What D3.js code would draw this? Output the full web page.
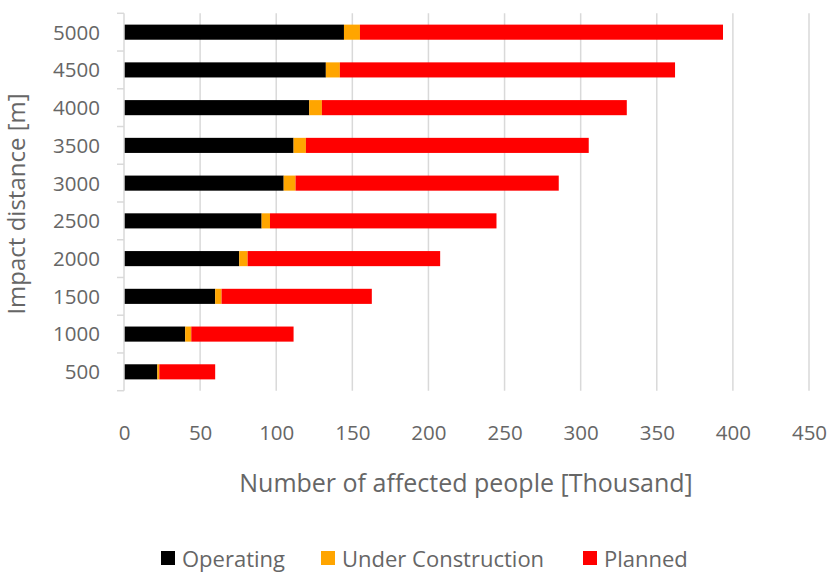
<!DOCTYPE html>
<html>
<head>
<meta charset="utf-8">
<script src="https://cdn.jsdelivr.net/npm/d3@7/dist/d3.min.js"></script>
<style>
  html, body { margin: 0; padding: 0; background: #fff; }
  svg { display: block; font-family: "Open Sans", "Noto Sans", sans-serif; }
</style>
</head>
<body>
<svg id="chart" width="827" height="572"></svg>
<script>
// Impact distance bands (m), drawn top to bottom
const distances = ["5000", "4500", "4000", "3500", "3000", "2500", "2000", "1500", "1000", "500"];

// Affected people in thousands, per status, same order as distances
const operating = [144.5, 132.6, 121.7, 111.4, 104.9, 90.4, 75.7, 59.9, 40.2, 21.9];
const underConstruction = [10.5, 9.2, 8.3, 8.1, 7.8, 5.5, 5.5, 4.2, 4.0, 1.3];
const planned = [238.5, 220.2, 200.3, 185.8, 172.9, 148.8, 126.5, 98.7, 67.2, 36.7];

const xTicks = [0, 50, 100, 150, 200, 250, 300, 350, 400, 450];

const seriesNames = ["Operating", "Under Construction", "Planned"];
const seriesColors = ["#000000", "#FFA500", "#FF0000"];

const rows = distances.map((d, i) => ({
  distance: d,
  "Operating": operating[i],
  "Under Construction": underConstruction[i],
  "Planned": planned[i]
}));

const svg = d3.select("#chart");
const textColor = "#666666";
const gridColor = "#d9d9d9";

const x = d3.scaleLinear().domain([0, 450]).range([124, 809]);
const y = d3.scaleBand().domain(distances).range([13.3, 390.7])
  .paddingInner(0.6).paddingOuter(0.3);

// Vertical gridlines
svg.append("g")
  .selectAll("line")
  .data(xTicks.filter(t => t > 0))
  .join("line")
  .attr("x1", d => x(d)).attr("x2", d => x(d))
  .attr("y1", y.range()[0]).attr("y2", y.range()[1])
  .attr("stroke", gridColor).attr("stroke-width", 1.5);

// Stacked bars
const stack = d3.stack().keys(seriesNames);
const layers = stack(rows);
svg.append("g")
  .selectAll("g")
  .data(layers)
  .join("g")
  .attr("fill", (d, i) => seriesColors[i])
  .selectAll("rect")
  .data(d => d)
  .join("rect")
  .attr("x", d => x(d[0]))
  .attr("width", d => x(d[1]) - x(d[0]))
  .attr("y", d => y(d.data.distance))
  .attr("height", y.bandwidth());

// Category axis line with ticks on band boundaries
const step = y.step();
const boundaries = d3.range(distances.length + 1).map(i => y.range()[0] + i * step);
const yAxisG = svg.append("g");
yAxisG.append("line")
  .attr("x1", x(0)).attr("x2", x(0))
  .attr("y1", y.range()[0]).attr("y2", y.range()[1])
  .attr("stroke", gridColor).attr("stroke-width", 1.5);
yAxisG.selectAll("line.tick")
  .data(boundaries)
  .join("line")
  .attr("class", "tick")
  .attr("x1", x(0) - 7).attr("x2", x(0))
  .attr("y1", d => d).attr("y2", d => d)
  .attr("stroke", gridColor).attr("stroke-width", 1.5);

// Category labels
svg.append("g")
  .attr("transform", "translate(100,0)")
  .call(d3.axisLeft(y).tickSize(0).tickPadding(0))
  .call(g => g.select(".domain").remove())
  .call(g => g.selectAll("text")
    .attr("fill", textColor)
    .style("font-family", "'Open Sans', sans-serif")
    .style("font-size", "20.5px")
    .attr("dy", "0.36em"));

// Value axis labels
svg.append("g")
  .attr("transform", "translate(0,425)")
  .call(d3.axisBottom(x).tickValues(xTicks).tickSize(0).tickPadding(0))
  .call(g => g.select(".domain").remove())
  .call(g => g.selectAll("text")
    .attr("fill", textColor)
    .style("font-family", "'Open Sans', sans-serif")
    .style("font-size", "20.5px")
    .attr("dy", "0.71em"));

// Axis titles
svg.append("text")
  .attr("x", 466).attr("y", 492)
  .attr("text-anchor", "middle")
  .attr("fill", textColor)
  .style("font-size", "25px")
  .text("Number of affected people [Thousand]");

svg.append("text")
  .attr("transform", "translate(25,204) rotate(-90)")
  .attr("text-anchor", "middle")
  .attr("fill", textColor)
  .style("font-size", "24px")
  .text("Impact distance [m]");

// Legend
const legendX = [161, 321, 583];
const legend = svg.append("g")
  .selectAll("g")
  .data(seriesNames)
  .join("g")
  .attr("transform", (d, i) => `translate(${legendX[i]},551)`);
legend.append("rect")
  .attr("width", 14).attr("height", 14)
  .attr("fill", (d, i) => seriesColors[i]);
legend.append("text")
  .attr("x", 21).attr("y", 16)
  .attr("fill", textColor)
  .style("font-size", "22px")
  .text(d => d);
</script>
</body>
</html>
